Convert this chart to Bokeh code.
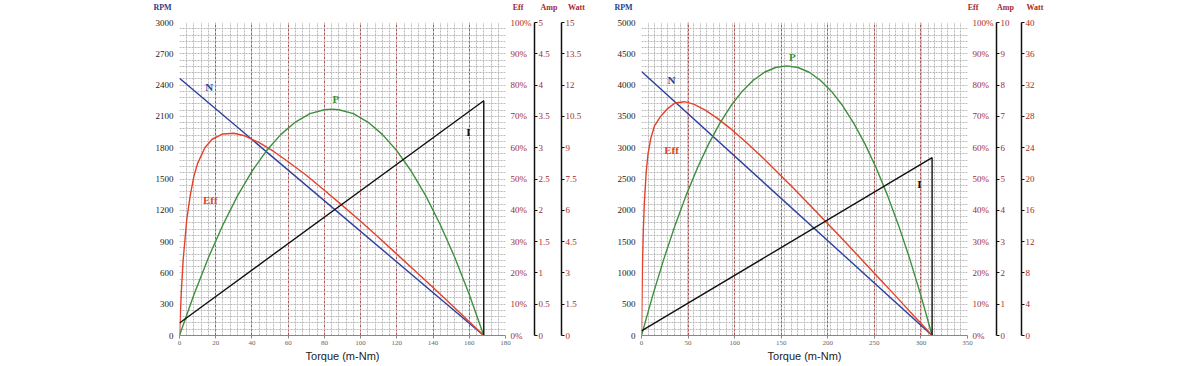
from bokeh.plotting import figure
from bokeh.models import Range1d, LinearAxis, FixedTicker, PrintfTickFormatter
from bokeh.layouts import row, column
from bokeh.embed import file_html
from bokeh.resources import INLINE
from bokeh.core.properties import value

# ---------------- Left chart data ----------------
L_n_torque = [0, 168]
L_n_rpm = [2466, 0]
L_i_torque = [0, 168, 168]
L_i_amp = [0.2, 3.75, 0]
L_p_torque = [0, 8, 16, 24, 32, 40, 48, 56, 64, 72, 80, 84, 88, 96, 104, 112, 120, 128, 136, 144, 152, 160, 168]
L_p_watt = [0, 1.97, 3.74, 5.31, 6.69, 7.87, 8.85, 9.64, 10.23, 10.63, 10.82, 10.85, 10.82, 10.63, 10.23,
            9.64, 8.85, 7.87, 6.69, 5.31, 3.74, 1.97, 0]
L_eff_torque = [0, 1, 2, 4, 6, 8, 10, 14, 18, 24, 30, 36, 44, 52, 60, 70, 80, 90, 100, 110, 120, 130, 140, 150, 160, 168]
L_eff_pct = [0, 14, 24, 37, 45, 51, 55, 60, 62.7, 64.4, 64.6, 63.8, 61.6, 58.8, 55.5, 51.2, 46.4, 41.5, 36.5,
             31.3, 26.0, 20.7, 15.3, 9.9, 4.4, 0]
L_torque_ticks = [0, 20, 40, 60, 80, 100, 120, 140, 160, 180]
L_rpm_ticks = [0, 300, 600, 900, 1200, 1500, 1800, 2100, 2400, 2700, 3000]
L_amp_ticks = [0, 0.5, 1, 1.5, 2, 2.5, 3, 3.5, 4, 4.5, 5]
L_amp_labels = ["0", "0.5", "1", "1.5", "2", "2.5", "3", "3.5", "4", "4.5", "5"]
L_watt_ticks = [0, 1.5, 3, 4.5, 6, 7.5, 9, 10.5, 12, 13.5, 15]
L_watt_labels = ["0", "1.5", "3", "4.5", "6", "7.5", "9", "10.5", "12", "13.5", "15"]

# ---------------- Right chart data ----------------
R_n_torque = [0, 312]
R_n_rpm = [4218, 0]
R_i_torque = [0, 312, 312]
R_i_amp = [0.15, 5.68, 0]
R_p_torque = [0, 12, 24, 36, 48, 60, 72, 84, 96, 108, 120, 132, 144, 156, 168, 180, 192, 204, 216, 228, 240,
              252, 264, 276, 288, 300, 312]
R_p_watt = [0, 5.10, 9.79, 14.07, 17.94, 21.41, 24.46, 27.11, 29.36, 31.19, 32.62, 33.64, 34.25, 34.45, 34.25,
            33.64, 32.62, 31.19, 29.36, 27.11, 24.46, 21.41, 17.94, 14.07, 9.79, 5.10, 0]
R_eff_torque = [0, 1, 2, 3, 5, 7, 10, 14, 20, 28, 36, 46, 56, 68, 80, 96, 112, 128, 144, 160, 176, 192, 208,
                224, 240, 256, 272, 288, 300, 312]
R_eff_pct = [0, 22, 34, 42, 52, 58, 63, 67, 69.8, 72.5, 74.3, 74.7, 73.9, 72.1, 69.7, 66.0, 61.8, 57.4, 52.7,
             48.0, 43.1, 38.2, 33.2, 28.2, 23.1, 18.0, 12.9, 7.7, 3.9, 0]
R_torque_ticks = [0, 50, 100, 150, 200, 250, 300, 350]
R_rpm_ticks = [0, 500, 1000, 1500, 2000, 2500, 3000, 3500, 4000, 4500, 5000]
R_amp_ticks = [0, 1, 2, 3, 4, 5, 6, 7, 8, 9, 10]
R_amp_labels = ["0", "1", "2", "3", "4", "5", "6", "7", "8", "9", "10"]
R_watt_ticks = [0, 4, 8, 12, 16, 20, 24, 28, 32, 36, 40]
R_watt_labels = ["0", "4", "8", "12", "16", "20", "24", "28", "32", "36", "40"]

EFF_TICKS = [0, 10, 20, 30, 40, 50, 60, 70, 80, 90, 100]

# axis headings shown above each chart
HEADINGS = ["RPM", "Eff", "Amp", "Watt", "RPM", "Eff", "Amp", "Watt"]

BLUE = "#2e3f9e"
RED = "#e2422b"
GREEN = "#3e8f3e"
BLACK = "#111111"
DARKRED = "#a52a2a"
HEAD_BLUE = "#2d3c8c"
SERIF = "Liberation Serif"
SANS = "Liberation Sans"


def style_side_axis(ax, line):
    ax.major_label_text_font = SERIF
    ax.major_label_text_font_size = "9px"
    ax.major_label_text_color = DARKRED
    ax.minor_tick_line_color = None
    ax.minor_tick_out = 0
    ax.minor_tick_in = 0
    if line:
        ax.axis_line_color = BLACK
        ax.axis_line_width = 1.5
        ax.major_tick_line_color = BLACK
        ax.major_tick_out = 3
        ax.major_tick_in = 0
        ax.major_label_standoff = 1
    else:
        ax.axis_line_color = None
        ax.major_tick_line_color = None
        ax.major_tick_out = 0
        ax.major_tick_in = 0
        ax.major_label_standoff = 5


def build(tmax, t_ticks, t_minor_step, rmax, r_ticks, r_grid_step, amp_max, amp_ticks, amp_labels,
          watt_max, watt_ticks, watt_labels, n_t, n_v, i_t, i_v, p_t, p_v, e_t, e_v,
          width, bl, br, marks):
    p = figure(width=width, height=350, output_backend="svg", toolbar_location=None,
               x_range=Range1d(0, tmax), y_range=Range1d(0, rmax),
               min_border_left=bl, min_border_right=br, min_border_top=8, min_border_bottom=29)
    p.outline_line_color = None
    p.background_fill_color = "white"
    p.border_fill_color = "white"
    p.extra_y_ranges = {"eff": Range1d(0, 100), "amp": Range1d(0, amp_max), "watt": Range1d(0, watt_max)}

    # grids
    minors = [t for t in range(0, tmax + 1, t_minor_step) if t not in t_ticks]
    p.xgrid.ticker = FixedTicker(ticks=t_ticks, minor_ticks=minors)
    p.xgrid.grid_line_color = "#a85a5a"
    p.xgrid.grid_line_width = 1
    p.xgrid.grid_line_dash = "3 1"
    p.xgrid.minor_grid_line_color = "#b8b8b8"
    p.xgrid.minor_grid_line_dash = "2 1"
    p.ygrid.ticker = FixedTicker(ticks=list(range(0, rmax + 1, r_grid_step)))
    p.ygrid.grid_line_color = "#b8b8b8"
    p.ygrid.grid_line_dash = "2 1"

    # x axis
    xa = p.xaxis[0]
    xa.ticker = FixedTicker(ticks=t_ticks)
    xa.axis_line_color = "#888888"
    xa.major_tick_line_color = "#888888"
    xa.major_tick_out = 3
    xa.major_tick_in = 0
    xa.minor_tick_line_color = None
    xa.minor_tick_out = 0
    xa.major_label_text_font = SERIF
    xa.major_label_text_font_size = "7px"
    xa.major_label_text_color = "#666666"
    xa.major_label_standoff = 2
    xa.axis_label = "Torque (m-Nm)"
    xa.axis_label_text_font = SANS
    xa.axis_label_text_font_size = "11px"
    xa.axis_label_text_font_style = "normal"
    xa.axis_label_text_color = "#222222"
    xa.axis_label_standoff = 2

    # left y axis
    ya = p.yaxis[0]
    ya.ticker = FixedTicker(ticks=r_ticks)
    ya.axis_line_color = None
    ya.major_tick_line_color = None
    ya.minor_tick_line_color = None
    ya.major_tick_out = 0
    ya.minor_tick_out = 0
    ya.major_label_text_font = SERIF
    ya.major_label_text_font_size = "9px"
    ya.major_label_text_color = "#222222"
    ya.major_label_standoff = 6

    # right axes
    eff_ax = LinearAxis(y_range_name="eff", ticker=FixedTicker(ticks=EFF_TICKS),
                        formatter=PrintfTickFormatter(format="%d%%"))
    style_side_axis(eff_ax, False)
    p.add_layout(eff_ax, "right")
    amp_ax = LinearAxis(y_range_name="amp", ticker=FixedTicker(ticks=amp_ticks))
    amp_ax.major_label_overrides = {t: s for t, s in zip(amp_ticks, amp_labels)}
    style_side_axis(amp_ax, True)
    amp_ax.axis_label = "\u00a0"
    amp_ax.axis_label_standoff = 0
    amp_ax.axis_label_text_font_size = "6px"
    p.add_layout(amp_ax, "right")
    watt_ax = LinearAxis(y_range_name="watt", ticker=FixedTicker(ticks=watt_ticks))
    watt_ax.major_label_overrides = {t: s for t, s in zip(watt_ticks, watt_labels)}
    style_side_axis(watt_ax, True)
    p.add_layout(watt_ax, "right")

    # curves
    p.line(n_t, n_v, line_color=BLUE, line_width=1.4)
    p.line(e_t, e_v, line_color=RED, line_width=1.4, y_range_name="eff")
    p.line(p_t, p_v, line_color=GREEN, line_width=1.4, y_range_name="watt")
    p.line(i_t, i_v, line_color=BLACK, line_width=1.4, y_range_name="amp")

    # curve labels
    p.text(x=[m[1] for m in marks], y=[m[2] for m in marks], text=[m[0] for m in marks],
           text_color=[m[3] for m in marks], text_font=value(SERIF), text_font_size=value("11px"),
           text_font_style="bold", text_align="center", text_baseline="middle")
    return p


left = build(180, L_torque_ticks, 4, 3000, L_rpm_ticks, 60, 5, L_amp_ticks, L_amp_labels,
             15, L_watt_ticks, L_watt_labels, L_n_torque, L_n_rpm, L_i_torque, L_i_amp,
             L_p_torque, L_p_watt, L_eff_torque, L_eff_pct,
             600, 179, 95,
             [("N", 16.4, 2386, BLUE), ("P", 86.4, 2269, GREEN), ("Eff", 17.0, 1294, RED), ("I", 159.5, 1949, BLACK)])

right = build(350, R_torque_ticks, 7, 5000, R_rpm_ticks, 100, 10, R_amp_ticks, R_amp_labels,
              40, R_watt_ticks, R_watt_labels, R_n_torque, R_n_rpm, R_i_torque, R_i_amp,
              R_p_torque, R_p_watt, R_eff_torque, R_eff_pct,
              598, 41, 231,
              [("N", 32.2, 4078, BLUE), ("P", 161.9, 4452, GREEN), ("Eff", 32.2, 2960, RED), ("I", 298.4, 2417, BLACK)])

# heading strip (pixel coordinates across the page)
head = figure(width=1198, height=14, output_backend="svg", toolbar_location=None,
              x_range=Range1d(0, 1198), y_range=Range1d(0, 14),
              x_axis_location=None, y_axis_location=None,
              min_border_left=0, min_border_right=0, min_border_top=0, min_border_bottom=0)
head.outline_line_color = None
head.grid.visible = False
head_x = [162, 517.5, 548.5, 576, 623, 972.5, 1005, 1034.5]
head_colors = [HEAD_BLUE, DARKRED, DARKRED, DARKRED, HEAD_BLUE, DARKRED, DARKRED, DARKRED]
head.text(x=head_x, y=[7] * len(head_x), text=HEADINGS, text_color=head_colors,
          text_font=value(SERIF), text_font_size=value("8px"), text_font_style="bold",
          text_align="center", text_baseline="middle")

layout = column(head, row(left, right))
open("out.html", "w").write(file_html(layout, INLINE))
